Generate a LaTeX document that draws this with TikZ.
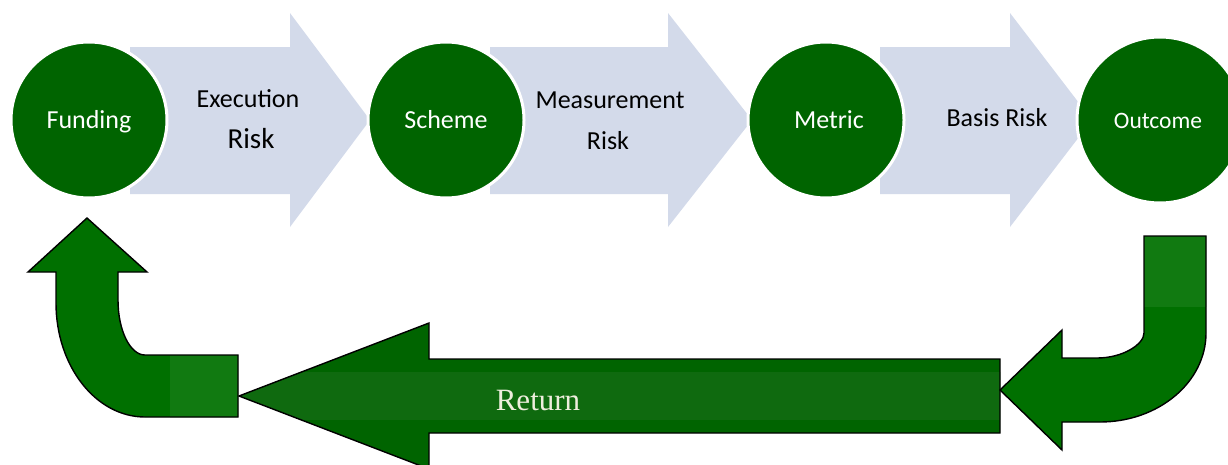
\documentclass[tikz,border=0pt]{standalone}
\usepackage{fontspec}
\setmainfont{Carlito}
\newfontfamily\serifface{Liberation Serif}
\newcommand\txtsize[1]{\fontsize{#1}{#1}\selectfont}
\definecolor{stagegreen}{HTML}{006400}
\definecolor{riskblue}{HTML}{D3DAEA}
\definecolor{bentdark}{HTML}{007000}
\definecolor{bentlight}{HTML}{117A11}
\definecolor{retdark}{HTML}{006400}
\definecolor{retlight}{HTML}{0F6A0F}
\definecolor{rettext}{HTML}{EEEEDD}
\begin{document}
\begin{tikzpicture}[x=1pt,y=-1pt,
  stage/.style={circle,minimum size=156pt,inner sep=0pt,fill=stagegreen,draw=white,line width=3pt},
  stagetext/.style={anchor=base,text=white,inner sep=0pt},
  risktext/.style={anchor=base,text=black,inner sep=0pt},
  riskarrow/.style={fill=riskblue},
  bentarrow/.style={draw=black,line width=1.4pt,line join=miter}]
\useasboundingbox (0,0) rectangle (1228,464);

% light risk arrows between the stages
\fill[riskarrow] (130,47) -- (290,47) -- (290,13) -- (370,120) -- (290,227) -- (290,194) -- (130,194) -- cycle;
\fill[riskarrow] (490,47) -- (668,47) -- (668,13) -- (752,120) -- (668,227) -- (668,194) -- (490,194) -- cycle;
\fill[riskarrow] (880,47) -- (1010,47) -- (1010,13) -- (1092,120) -- (1010,227) -- (1010,194) -- (880,194) -- cycle;

% stages
\node[stage] (funding) at (89,120) {};
\node[stage] (scheme) at (446,120) {};
\node[stage] (metric) at (826,120) {};
\node[stage,minimum size=166pt] (outcome) at (1160,120) {};

\node[stagetext,font=\txtsize{26}] (tfunding) at (89,128.4) {Funding};
\node[stagetext,font=\txtsize{26}] (tscheme) at (446,128.4) {Scheme};
\node[stagetext,font=\txtsize{26}] (tmetric) at (829,128.4) {Metric};
\node[stagetext,font=\txtsize{23.5}] (toutcome) at (1158,128.6) {Outcome};

% risk labels
\node[risktext,font=\txtsize{26}] (exec) at (248,107.4) {Execution};
\node[risktext,font=\txtsize{29}] (execrisk) at (251,148.3) {Risk};
\node[risktext,font=\txtsize{26}] (meas) at (610,108.4) {Measurement};
\node[risktext,font=\txtsize{26}] (measrisk) at (608,149.5) {Risk};
\node[risktext,font=\txtsize{26}] (basis) at (997,126.4) {Basis Risk};

% return arrow
\def\returnpath{(1000,359) -- (429,359) -- (429,323) -- (239,396) -- (429,469) -- (429,433) -- (1000,433) -- cycle}
\fill[retdark] \returnpath;
\begin{scope}
  \clip \returnpath;
  \fill[retlight] (200,372) rectangle (1010,420);
\end{scope}
\draw[bentarrow] \returnpath;
\node[anchor=base,inner sep=0pt,text=rettext,font=\serifface\txtsize{31}] (treturn) at (538,410) {Return};

% bent arrow leaving the outcome
\def\rightbent{(1144,236) -- (1206,236) -- (1206,333)
  .. controls (1206,382.2) and (1158.5,422) .. (1100,422)
  -- (1062,422) -- (1062,450) -- (1000,390) -- (1062,330) -- (1062,358) -- (1097,358)
  .. controls (1123,358) and (1144,344.2) .. (1144,333) -- cycle}
\fill[bentdark] \rightbent;
\begin{scope}
  \clip \rightbent;
  \fill[bentlight] (1130,230) rectangle (1215,307);
\end{scope}
\draw[bentarrow] \rightbent;

% bent arrow back into funding
\def\leftbent{(87,218) -- (147,272) -- (118,272) -- (118,300)
  .. controls (118,330.4) and (130.1,355) .. (145,355)
  -- (238,355) -- (238,417) -- (145,417)
  .. controls (95.8,417) and (56,366) .. (56,303)
  -- (56,272) -- (28,272) -- cycle}
\fill[bentdark] \leftbent;
\begin{scope}
  \clip \leftbent;
  \fill[bentlight] (170,340) rectangle (245,425);
\end{scope}
\draw[bentarrow] \leftbent;
\end{tikzpicture}
\end{document}
